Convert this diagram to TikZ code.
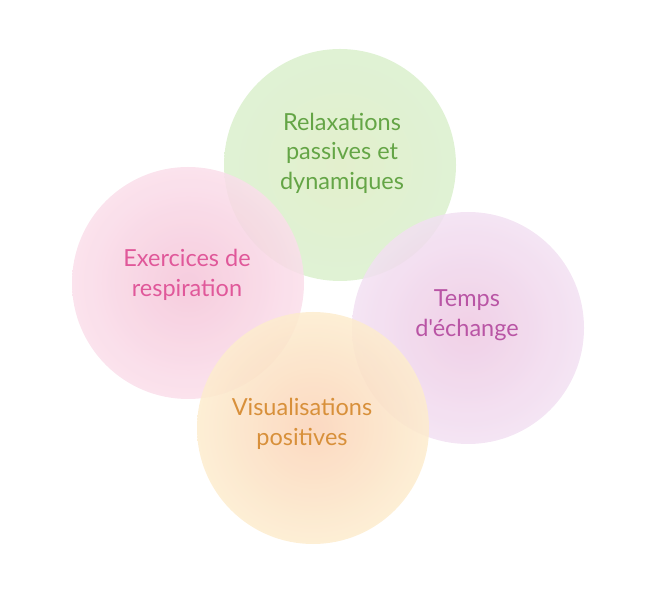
\documentclass[tikz,border=0pt]{standalone}
\usepackage{fontspec}
\newfontfamily\policeBulle{Lato}
\usepackage{xcolor}

\definecolor{vertTexte}{HTML}{64A546}
\definecolor{roseTexte}{HTML}{E0589A}
\definecolor{violetTexte}{HTML}{B955A5}
\definecolor{orangeTexte}{HTML}{D8903A}

\begin{document}
\begin{tikzpicture}[x=1pt, y=1pt,
            bulle/.style = {circle, minimum size = 232pt, inner sep = 0pt, fill opacity = 0.85},
            etiquette/.style = {align = center, font = \policeBulle\fontsize{23.5}{29.5}\selectfont}]
            \useasboundingbox (0,0) rectangle (663,610);
            % bulles
            \node[bulle, inner color = {rgb,255:red,222;green,236;blue,196}, outer color = {rgb,255:red,218;green,240;blue,205}] (relaxB) at (340,445) {};
            \node[bulle, inner color = {rgb,255:red,245;green,196;blue,216}, outer color = {rgb,255:red,250;green,222;blue,234}] (respB) at (188,327) {};
            \node[bulle, inner color = {rgb,255:red,238;green,200;blue,226}, outer color = {rgb,255:red,242;green,224;blue,242}] (echangeB) at (468,282) {};
            \node[bulle, inner color = {rgb,255:red,250;green,210;blue,182}, outer color = {rgb,255:red,253;green,236;blue,206}] (visuB) at (313,182) {};
            % textes
            \node[etiquette, text = vertTexte] (relax) at (342,457) {Relaxations\\passives et\\dynamiques};
            \node[etiquette, text = roseTexte] (resp) at (187,335) {Exercices de\\respiration};
            \node[etiquette, text = violetTexte] (echange) at (467,295) {Temps\\d'échange};
            \node[etiquette, text = orangeTexte] (visu) at (302,186) {Visualisations\\positives};
        \end{tikzpicture}
\end{document}
